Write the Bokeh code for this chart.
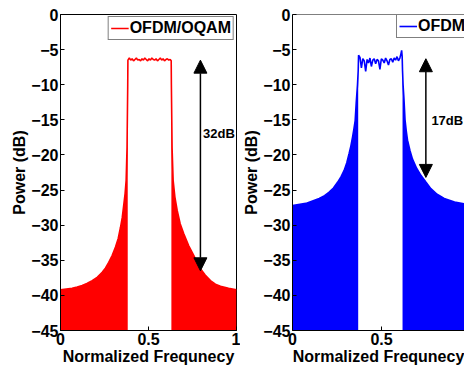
from bokeh.plotting import figure
from bokeh.models import (Range1d, Arrow, NormalHead, Label, Span,
                          Legend, LegendItem, FixedTicker)
from bokeh.layouts import row
from bokeh.embed import file_html
from bokeh.resources import INLINE

FONT = "Liberation Sans"

# ---------------- data ----------------
# OFDM/OQAM (red): spectrum envelope, lower sideband / band / upper sideband
red_low_f = [0.0, 0.033, 0.066, 0.095, 0.123, 0.15, 0.18, 0.21, 0.237, 0.256, 0.274,
             0.294, 0.3125, 0.328, 0.341, 0.351, 0.36, 0.367, 0.373, 0.378, 0.382]
red_low_db = [-39.2, -39.1, -39.0, -38.8, -38.6, -38.3, -37.9, -37.4, -36.7, -36.1, -35.3,
              -34.3, -33.1, -31.9, -30.3, -28.9, -27.0, -25.5, -23.6, -19.0, -10.0]
red_band_f = [0.382, 0.383, 0.391, 0.399, 0.407, 0.415, 0.423, 0.431, 0.439, 0.447, 0.455,
              0.463, 0.471, 0.479, 0.487, 0.495, 0.503, 0.511, 0.519, 0.527, 0.535,
              0.543, 0.551, 0.559, 0.567, 0.575, 0.583, 0.591, 0.599, 0.607, 0.615,
              0.623, 0.629, 0.630]
red_band_db = [-10.0, -6.5, -6.2, -6.5, -6.3, -6.6, -6.4, -6.2, -6.5, -6.4, -6.6,
               -6.3, -6.5, -6.2, -6.4, -6.6, -6.3, -6.5, -6.2, -6.4, -6.5,
               -6.3, -6.6, -6.4, -6.2, -6.5, -6.3, -6.6, -6.4, -6.3, -6.5,
               -6.4, -6.6, -10.0]
red_up_f = [0.630, 0.634, 0.640, 0.650, 0.663, 0.68, 0.70, 0.728, 0.757, 0.775, 0.795,
            0.822, 0.852, 0.88, 0.909, 0.955, 1.0]
red_up_db = [-10.0, -19.0, -23.6, -26.0, -27.9, -29.8, -31.2, -32.9, -34.3, -35.3, -36.2,
             -37.1, -37.9, -38.4, -38.7, -39.0, -39.2]

# OFDM (blue)
blue_low_f = [0.0, 0.075, 0.15, 0.18, 0.206, 0.23, 0.253, 0.273, 0.29, 0.305, 0.318,
              0.328, 0.337, 0.345, 0.352, 0.358, 0.365, 0.369]
blue_low_db = [-27.2, -26.9, -26.2, -25.8, -25.3, -24.7, -23.9, -23.1, -22.2, -21.1, -19.8,
               -18.7, -17.5, -16.3, -15.1, -12.5, -10.0, -8.0]
blue_band_f = [0.369, 0.371, 0.379, 0.387, 0.395, 0.403, 0.411, 0.419, 0.427, 0.435, 0.443,
               0.451, 0.459, 0.467, 0.475, 0.483, 0.491, 0.499, 0.507, 0.515, 0.523,
               0.531, 0.539, 0.547, 0.555, 0.563, 0.571, 0.579, 0.587, 0.595, 0.603,
               0.609, 0.613, 0.616, 0.618]
blue_band_db = [-8.0, -5.8, -6.1, -7.6, -6.3, -6.6, -8.1, -6.4, -6.9, -6.2, -7.4,
                -6.5, -6.3, -7.0, -6.4, -6.6, -7.8, -6.3, -6.5, -6.9, -6.2,
                -6.6, -7.2, -6.4, -6.3, -6.8, -6.2, -6.5, -6.0, -6.6, -6.2,
                -5.6, -5.1, -6.0, -8.0]
blue_up_f = [0.618, 0.621, 0.626, 0.632, 0.639, 0.646, 0.66, 0.674, 0.697, 0.721, 0.75,
             0.777, 0.812, 0.852, 0.91, 0.968, 1.0]
blue_up_db = [-8.0, -10.0, -12.0, -15.0, -16.6, -17.9, -19.4, -20.6, -21.9, -22.9, -23.9,
              -24.8, -25.6, -26.2, -26.7, -27.0, -27.2]

# annotations: arrow position / extent and labels
red_arrow = dict(x=0.795, top=-6.5, bottom=-36.5, label="32dB", lx=0.81, ly=-17.0)
blue_arrow = dict(x=0.749, top=-6.3, bottom=-23.2, label="17dB", lx=0.78, ly=-15.1)

x_ticks = [0, 0.5, 1]
x_tick_labels = {0: "0", 0.5: "0.5", 1: "1"}
y_ticks = [-45, -40, -35, -30, -25, -20, -15, -10, -5, 0]


def style_axis(ax):
    ax.axis_line_color = "black"
    ax.axis_line_width = 1
    ax.major_tick_line_color = "black"
    ax.major_tick_in = 4
    ax.major_tick_out = 0
    ax.minor_tick_line_color = None
    ax.major_label_text_font = FONT
    ax.major_label_text_font_style = "bold"
    ax.major_label_text_color = "black"
    ax.major_label_text_font_size = "16px"
    ax.major_label_standoff = 2
    ax.axis_label_text_font = FONT
    ax.axis_label_text_font_style = "bold"
    ax.axis_label_text_font_size = "16px"
    ax.axis_label_text_color = "black"
    ax.axis_label_standoff = 0


def make_panel(width, xmax, color, low_f, low_db, band_f, band_db, up_f, up_db,
               name, arrow, legend_loc, border_left, border_right, boxed):
    p = figure(width=width, height=368, x_range=Range1d(0, xmax), y_range=Range1d(-45, 0),
               output_backend="svg", toolbar_location=None,
               min_border_left=border_left, min_border_right=border_right,
               min_border_top=14, min_border_bottom=38,
               outline_line_color="black" if boxed else None,
               background_fill_color="white", border_fill_color="white")
    p.grid.visible = False

    xa = p.xaxis[0]
    ya = p.yaxis[0]
    style_axis(xa)
    style_axis(ya)
    xa.ticker = FixedTicker(ticks=x_ticks)
    xa.major_label_overrides = x_tick_labels
    ya.ticker = FixedTicker(ticks=y_ticks)
    xa.axis_label = "Normalized Frequnecy"
    ya.axis_label = "Power (dB)"
    if not boxed:
        p.add_layout(Span(location=0, dimension="width", line_color="black", line_width=1))

    # filled sidebands (dense sidelobes) and spectrum line
    p.varea(x=low_f, y1=-45, y2=low_db, fill_color=color)
    p.varea(x=up_f, y1=-45, y2=up_db, fill_color=color)
    all_f = low_f + band_f[1:-1] + up_f
    all_db = low_db + band_db[1:-1] + up_db
    ln = p.line(all_f, all_db, line_color=color, line_width=1.6)

    leg = Legend(items=[LegendItem(label=name, renderers=[ln])],
                 location=legend_loc, orientation="vertical",
                 border_line_color="black", border_line_width=1,
                 background_fill_color="white", background_fill_alpha=1,
                 padding=2, spacing=0, margin=2,
                 glyph_width=18, glyph_height=18, label_height=18,
                 label_standoff=1,
                 label_text_font=FONT, label_text_font_style="bold",
                 label_text_font_size="16px", label_text_color="black")
    p.add_layout(leg)

    head = dict(size=13, fill_color="black", line_color="black")
    p.add_layout(Arrow(x_start=arrow["x"], y_start=arrow["bottom"],
                       x_end=arrow["x"], y_end=arrow["top"],
                       start=NormalHead(**head), end=NormalHead(**head),
                       line_color="black", line_width=1.5))
    p.add_layout(Label(x=arrow["lx"], y=arrow["ly"], text=arrow["label"],
                       text_font=FONT, text_font_style="bold", text_font_size="13px",
                       text_color="black", text_baseline="middle", text_align="left"))
    return p


p1 = make_panel(240, 1.0, "#FF0000", red_low_f, red_low_db, red_band_f, red_band_db,
                red_up_f, red_up_db, "OFDM/OQAM", red_arrow, "top_right", 60, 4, True)
p2 = make_panel(224, 0.966, "#0000FF", blue_low_f, blue_low_db, blue_band_f, blue_band_db,
                blue_up_f, blue_up_db, "OFDM", blue_arrow, (104, 292), 52, 0, False)

layout = row(p1, p2)
open("out.html", "w").write(file_html(layout, INLINE))
